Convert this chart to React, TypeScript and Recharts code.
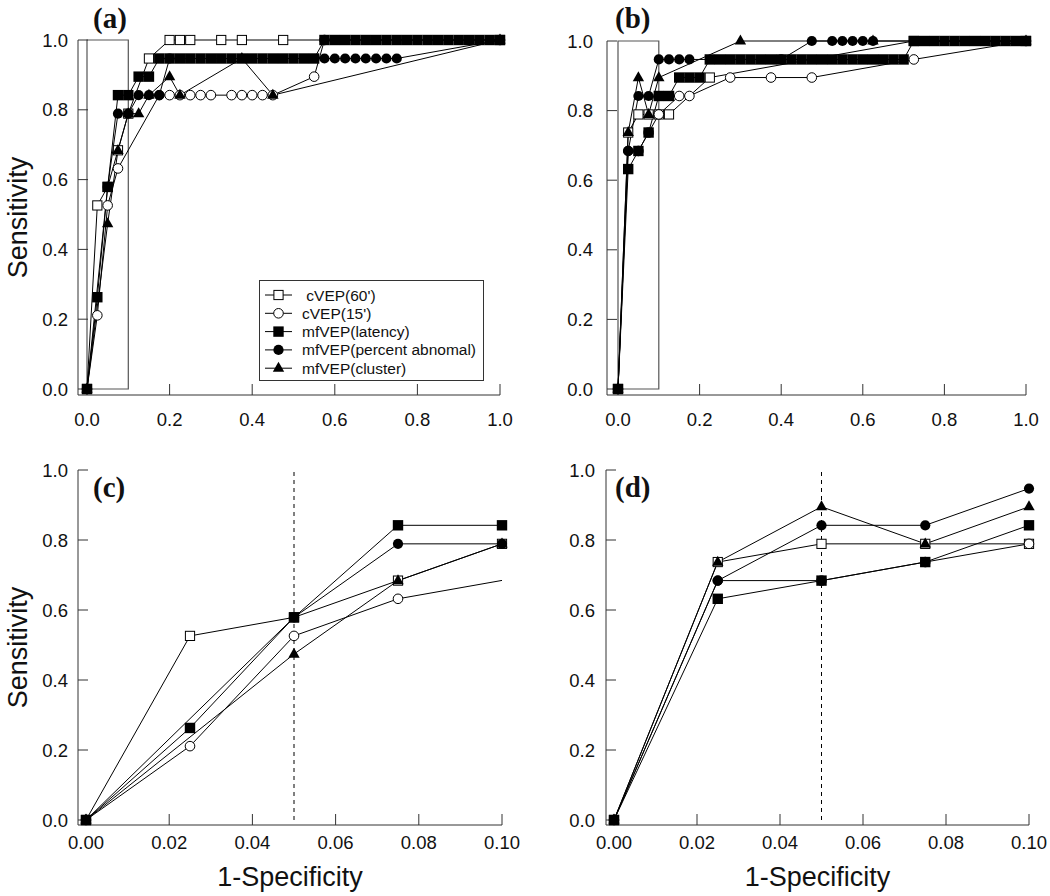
import React from 'react';
import { LineChart, Line, XAxis, YAxis, ReferenceArea, ReferenceLine, Legend, Label } from 'recharts';

// ---------- data ----------
const SERIES_NAMES = [" cVEP(60')", "cVEP(15')", 'mfVEP(latency)', 'mfVEP(percent abnomal)', 'mfVEP(cluster)'];
const SERIES_MARKERS = ['openSquare', 'openCircle', 'square', 'circle', 'triangle'];

const X_TICKS_FULL = [0, 0.2, 0.4, 0.6, 0.8, 1.0];
const X_TICKS_ZOOM = [0, 0.02, 0.04, 0.06, 0.08, 0.1];
const Y_TICKS = [0, 0.2, 0.4, 0.6, 0.8, 1.0];
const BOX_X = [0, 0.1];
const CUT_X = 0.05;

const LATENCY_X = [0, 0.025, 0.05, 0.075, 0.1, 0.125, 0.15, 0.175, 0.2, 0.225, 0.25, 0.275, 0.3, 0.325, 0.35, 0.375, 0.4, 0.425, 0.45, 0.475, 0.5, 0.525, 0.55, 0.575, 0.6, 0.625, 0.65, 0.675, 0.7, 0.725, 0.75, 0.775, 0.8, 0.825, 0.85, 0.875, 0.9, 0.925, 0.95, 0.975, 1];

// panel (a)/(c)
const A_CVEP60_X = [0, 0.025, 0.05, 0.075, 0.1, 0.15, 0.2, 0.225, 0.25, 0.325, 0.375, 0.475, 1];
const A_CVEP60_Y = [0, 0.526, 0.579, 0.684, 0.789, 0.947, 1, 1, 1, 1, 1, 1, 1];
const A_CVEP15_X = [0, 0.025, 0.05, 0.075, 0.175, 0.2, 0.225, 0.25, 0.275, 0.3, 0.35, 0.375, 0.4, 0.425, 0.45, 0.55, 0.575, 1];
const A_CVEP15_Y = [0, 0.211, 0.526, 0.632, 0.842, 0.842, 0.842, 0.842, 0.842, 0.842, 0.842, 0.842, 0.842, 0.842, 0.842, 0.895, 1, 1];
const A_LAT_Y = [0, 0.263, 0.579, 0.842, 0.842, 0.895, 0.895,
  0.947, 0.947, 0.947, 0.947, 0.947, 0.947, 0.947, 0.947, 0.947, 0.947, 0.947, 0.947, 0.947, 0.947, 0.947, 0.947,
  1, 1, 1, 1, 1, 1, 1, 1, 1, 1, 1, 1, 1, 1, 1, 1, 1, 1];
const A_PCT_X = [0, 0.05, 0.075, 0.1, 0.125, 0.15, 0.175, 0.2, 0.575, 0.6, 0.625, 0.65, 0.675, 0.7, 0.725, 0.75, 1];
const A_PCT_Y = [0, 0.579, 0.789, 0.789, 0.842, 0.842, 0.842, 0.947, 0.947, 0.947, 0.947, 0.947, 0.947, 0.947, 0.947, 0.947, 1];
const A_CLU_X = [0, 0.05, 0.075, 0.1, 0.125, 0.15, 0.2, 0.225, 0.375, 0.45, 1];
const A_CLU_Y = [0, 0.474, 0.684, 0.789, 0.789, 0.842, 0.895, 0.842, 0.947, 0.842, 1];

// panel (b)/(d)
const B_CVEP60_X = [0, 0.025, 0.05, 0.075, 0.1, 0.125, 0.225, 0.725, 1];
const B_CVEP60_Y = [0, 0.737, 0.789, 0.789, 0.789, 0.789, 0.895, 1, 1];
const B_CVEP15_X = [0, 0.025, 0.05, 0.075, 0.1, 0.15, 0.175, 0.275, 0.375, 0.475, 0.725, 1];
const B_CVEP15_Y = [0, 0.684, 0.684, 0.737, 0.789, 0.842, 0.842, 0.895, 0.895, 0.895, 0.947, 1];
const B_LAT_Y = [0, 0.632, 0.684, 0.737, 0.842, 0.842, 0.895, 0.895, 0.895,
  0.947, 0.947, 0.947, 0.947, 0.947, 0.947, 0.947, 0.947, 0.947, 0.947, 0.947, 0.947, 0.947, 0.947, 0.947, 0.947, 0.947, 0.947, 0.947, 0.947,
  1, 1, 1, 1, 1, 1, 1, 1, 1, 1, 1, 1];
const B_PCT_X = [0, 0.025, 0.05, 0.075, 0.1, 0.125, 0.15, 0.175, 0.4, 0.475, 0.525, 0.55, 0.575, 0.6, 0.625, 1];
const B_PCT_Y = [0, 0.684, 0.842, 0.842, 0.947, 0.947, 0.947, 0.947, 0.947, 1, 1, 1, 1, 1, 1, 1];
const B_CLU_X = [0, 0.025, 0.05, 0.075, 0.1, 0.3, 0.625, 1];
const B_CLU_Y = [0, 0.737, 0.895, 0.789, 0.895, 1, 1, 1];

type Pt = { x: number; y: number };
const zip = (xs: number[], ys: number[]): Pt[] => xs.map((x, i) => ({ x, y: ys[i] }));

const SERIES_A: Pt[][] = [
  zip(A_CVEP60_X, A_CVEP60_Y),
  zip(A_CVEP15_X, A_CVEP15_Y),
  zip(LATENCY_X, A_LAT_Y),
  zip(A_PCT_X, A_PCT_Y),
  zip(A_CLU_X, A_CLU_Y),
];
const SERIES_B: Pt[][] = [
  zip(B_CVEP60_X, B_CVEP60_Y),
  zip(B_CVEP15_X, B_CVEP15_Y),
  zip(LATENCY_X, B_LAT_Y),
  zip(B_PCT_X, B_PCT_Y),
  zip(B_CLU_X, B_CLU_Y),
];

// ---------- styling ----------
const SANS = '"Liberation Sans", Arial, Helvetica, sans-serif';
const SERIF = '"Liberation Serif", "Times New Roman", serif';
const CW = 525;
const CH = 448;
const Y_W = 60;
const X_H = 50;

function markerShape(kind: string, cx: number, cy: number, key?: string) {
  switch (kind) {
    case 'openSquare':
      return <rect key={key} x={cx - 4.6} y={cy - 4.6} width={9.2} height={9.2} fill="#fff" stroke="#000" strokeWidth={1} />;
    case 'openCircle':
      return <circle key={key} cx={cx} cy={cy} r={4.8} fill="#fff" stroke="#000" strokeWidth={1} />;
    case 'square':
      return <rect key={key} x={cx - 5.2} y={cy - 5.2} width={10.4} height={10.4} fill="#000" />;
    case 'circle':
      return <circle key={key} cx={cx} cy={cy} r={5.1} fill="#000" />;
    default:
      return <polygon key={key} points={`${cx},${cy - 6.4} ${cx - 5.7},${cy + 3.6} ${cx + 5.7},${cy + 3.6}`} fill="#000" />;
  }
}

const makeDot = (kind: string, prefix: string) => (p: any) => {
  const k = `${prefix}-${p.index}`;
  if (p.cx == null || p.cy == null || isNaN(p.cx) || isNaN(p.cy)) return <g key={k} />;
  return <g key={k}>{markerShape(kind, p.cx, p.cy)}</g>;
};

function LegendBox() {
  return (
    <svg width={226} height={102} style={{ display: 'block' }}>
      <rect x={0.5} y={0.5} width={224} height={100} fill="#fff" stroke="#333" strokeWidth={1} />
      {SERIES_NAMES.map((name, i) => {
        const cy = 15 + i * 18.3;
        return (
          <g key={name}>
            <line x1={6} x2={33} y1={cy} y2={cy} stroke="#000" strokeWidth={1} />
            {markerShape(SERIES_MARKERS[i], 19.5, cy)}
            <text x={43} y={cy + 5.5} fontSize={15.5} fontFamily={SANS} fill="#111" xmlSpace="preserve" style={{ whiteSpace: 'pre' }}>
              {name}
            </text>
          </g>
        );
      })}
    </svg>
  );
}

type Cfg = {
  cl: number; ct: number; L: number; R: number; T: number; B: number; x0: number; y0: number;
  xMax: number; xTicks: number[]; xDigits: number; series: Pt[][]; zoomed: boolean;
  tag: string; tagX: number; tagY: number; yTitle: boolean; xTitle: boolean; legend: boolean;
  xTickMargin: number; yTickMargin: number;
};

function Panel({ cfg }: { cfg: Cfg }) {
  const { cl, ct, L, R, T, B, x0, y0, xMax, xTicks, xDigits, series, zoomed } = cfg;
  const xMin = -((x0 - L) / (R - x0)) * xMax;
  const yMin = -((B - y0) / (y0 - T));
  const margin = { left: L - cl - Y_W, top: T - ct, right: cl + CW - R, bottom: ct + CH - B - X_H };

  const yLabel = (
    <Label
      content={() => (
        <g>
          {cfg.yTitle && (
            <text
              x={27 - cl}
              y={(T + B) / 2 - ct}
              transform={`rotate(-90 ${27 - cl} ${(T + B) / 2 - ct})`}
              textAnchor="middle"
              fontSize={27}
              fontFamily={SANS}
              fill="#111"
            >
              Sensitivity
            </text>
          )}
          <text x={cfg.tagX - cl} y={cfg.tagY - ct} fontSize={29} fontWeight="bold" fontFamily={SERIF} fill="#111">
            {cfg.tag}
          </text>
        </g>
      )}
    />
  );

  const xLabel = cfg.xTitle ? (
    <Label
      content={() => (
        <text x={(L + R) / 2 - cl} y={886 - ct} textAnchor="middle" fontSize={27} fontFamily={SANS} fill="#111">
          1-Specificity
        </text>
      )}
    />
  ) : undefined;

  const lines: React.ReactNode[] = [];
  series.forEach((data, i) => {
    const kind = SERIES_MARKERS[i];
    if (zoomed) {
      lines.push(
        <Line key={`l${i}`} xAxisId="clip" data={data} dataKey="y" type="linear" stroke="#000" strokeWidth={1}
          dot={false} activeDot={false} isAnimationActive={false} legendType="none" />
      );
      lines.push(
        <Line key={`m${i}`} xAxisId="main" data={data.filter((p) => p.x <= xMax + 1e-9)} dataKey="y" type="linear"
          stroke="none" dot={makeDot(kind, `${cfg.tag}m${i}`)} activeDot={false} isAnimationActive={false} legendType="none" />
      );
    } else {
      lines.push(
        <Line key={`l${i}`} xAxisId="main" data={data} dataKey="y" type="linear" stroke="#000" strokeWidth={1}
          dot={makeDot(kind, `${cfg.tag}l${i}`)} activeDot={false} isAnimationActive={false} legendType="none" />
      );
    }
  });

  return (
    <div style={{ position: 'absolute', left: cl, top: ct, width: CW, height: CH }}>
      <LineChart width={CW} height={CH} margin={margin}>
        <XAxis
          xAxisId="main"
          type="number"
          dataKey="x"
          domain={[xMin, xMax]}
          ticks={xTicks}
          interval={0}
          tickFormatter={(v: number) => v.toFixed(xDigits)}
          tickSize={-11}
          tickMargin={cfg.xTickMargin}
          height={X_H}
          axisLine={{ stroke: '#333', strokeWidth: 1 }}
          tickLine={{ stroke: '#333', strokeWidth: 1 }}
          tick={{ fill: '#111', fontSize: 18.5, fontFamily: SANS }}
          label={xLabel}
        />
        {zoomed && (
          <XAxis xAxisId="clip" type="number" dataKey="x" domain={[xMin, xMax]} allowDataOverflow hide height={0} />
        )}
        <YAxis
          type="number"
          domain={[yMin, 1]}
          ticks={Y_TICKS}
          interval={0}
          tickFormatter={(v: number) => v.toFixed(1)}
          tickSize={-10}
          tickMargin={cfg.yTickMargin}
          width={Y_W}
          axisLine={{ stroke: '#333', strokeWidth: 1 }}
          tickLine={{ stroke: '#333', strokeWidth: 1 }}
          tick={{ fill: '#111', fontSize: 18.5, fontFamily: SANS }}
          label={yLabel}
        />
        {!zoomed && (
          <ReferenceArea xAxisId="main" x1={BOX_X[0]} x2={BOX_X[1]} y1={0} y2={1} fill="none" fillOpacity={0}
            stroke="#555" strokeWidth={1.2} ifOverflow="visible" />
        )}
        {zoomed && (
          <ReferenceLine xAxisId="main" segment={[{ x: CUT_X, y: 0 }, { x: CUT_X, y: 1 }]} stroke="#000"
            strokeWidth={1} strokeDasharray="4 4" ifOverflow="visible" />
        )}
        {lines}
        {cfg.legend && (
          <Legend
            layout="horizontal"
            align="center"
            verticalAlign="middle"
            content={() => <LegendBox />}
            wrapperStyle={{ left: 259 - cl, top: 280 - ct, width: 226, height: 102 }}
          />
        )}
      </LineChart>
    </div>
  );
}

const PANELS: Cfg[] = [
  { cl: 0, ct: 0, L: 78, R: 500, T: 40, B: 395, x0: 87, y0: 389, xMax: 1, xTicks: X_TICKS_FULL, xDigits: 1,
    series: SERIES_A, zoomed: false, tag: '(a)', tagX: 93, tagY: 28, yTitle: true, xTitle: false, legend: true,
    xTickMargin: 29, yTickMargin: 20 },
  { cl: 525, ct: 0, L: 607, R: 1026, T: 41, B: 395, x0: 618, y0: 389, xMax: 1, xTicks: X_TICKS_FULL, xDigits: 1,
    series: SERIES_B, zoomed: false, tag: '(b)', tagX: 615, tagY: 28, yTitle: false, xTitle: false, legend: false,
    xTickMargin: 29, yTickMargin: 24 },
  { cl: 0, ct: 448, L: 78, R: 502, T: 470, B: 825, x0: 86, y0: 820, xMax: 0.1, xTicks: X_TICKS_ZOOM, xDigits: 2,
    series: SERIES_A, zoomed: true, tag: '(c)', tagX: 93, tagY: 497, yTitle: true, xTitle: true, legend: false,
    xTickMargin: 22, yTickMargin: 20 },
  { cl: 525, ct: 448, L: 606, R: 1029, T: 470, B: 825, x0: 614, y0: 820, xMax: 0.1, xTicks: X_TICKS_ZOOM, xDigits: 2,
    series: SERIES_B, zoomed: true, tag: '(d)', tagX: 615, tagY: 497, yTitle: false, xTitle: true, legend: false,
    xTickMargin: 22, yTickMargin: 21 },
];

export default function App() {
  return (
    <div style={{ position: 'absolute', left: 0, top: 0, width: 1050, height: 896, background: '#fff', overflow: 'hidden' }}>
      {PANELS.map((cfg) => (
        <Panel key={cfg.tag} cfg={cfg} />
      ))}
    </div>
  );
}
